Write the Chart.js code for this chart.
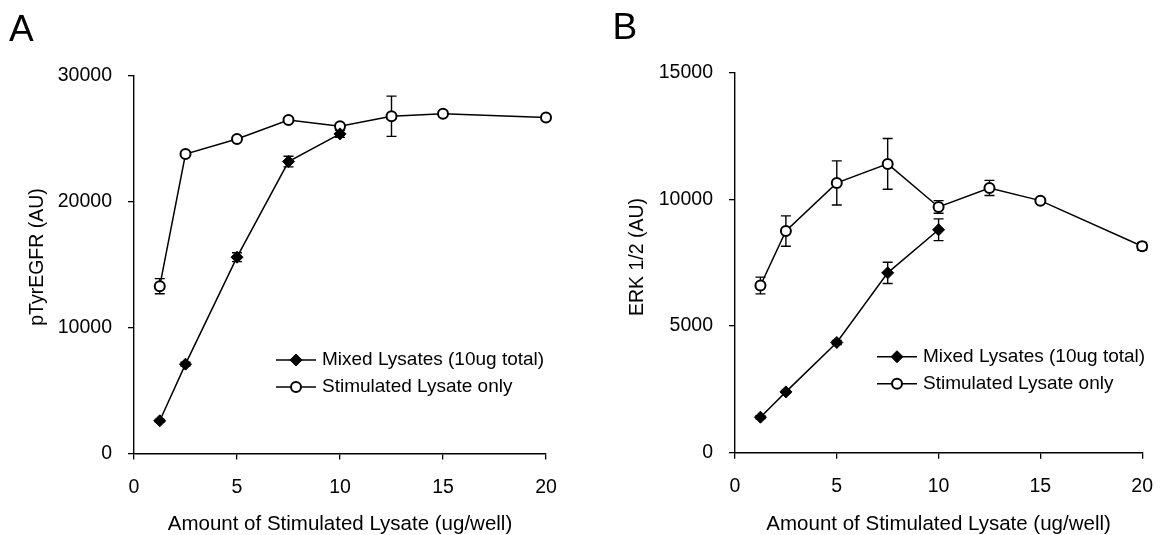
<!DOCTYPE html>
<html>
<head>
<meta charset="utf-8">
<script src="https://cdn.jsdelivr.net/npm/chart.js@4.4.1/dist/chart.umd.min.js"></script>
<style>
  html, body { margin: 0; padding: 0; background: #fff; }
  #wrap { position: relative; width: 1169px; height: 535px; overflow: hidden; background: #fff; }
  canvas { position: absolute; top: 0; }
  #chartA { left: 0; }
  #chartB { left: 580px; }
</style>
</head>
<body>
<div id="wrap">
  <canvas id="chartA" width="580" height="535"></canvas>
  <canvas id="chartB" width="589" height="535"></canvas>
</div>
<script>
// Amount of stimulated lysate per well (ug)
const xMixed = [1.25, 2.5, 5, 7.5, 10];
const xStim = [1.25, 2.5, 5, 7.5, 10, 12.5, 15, 20];

// Panel A: pTyrEGFR signal (AU) with error bars
const egfrMixed = [2600, 7100, 15600, 23200, 25400];
const egfrMixedErr = [100, 150, 350, 420, 280];
const egfrStim = [13300, 23800, 25000, 26500, 26000, 26800, 27000, 26700];
const egfrStimErr = [600, 150, 150, 150, 150, 1600, 100, 100];

// Panel B: ERK 1/2 signal (AU) with error bars
const erkMixed = [1400, 2400, 4350, 7100, 8800];
const erkMixedErr = [60, 60, 80, 420, 430];
const erkStim = [6600, 8750, 10650, 11400, 9700, 10450, 9950, 8150];
const erkStimErr = [330, 600, 870, 1000, 250, 300, 80, 150];

// Axis ticks
const xTicks = [0, 5, 10, 15, 20];
const egfrTicks = [0, 10000, 20000, 30000];
const erkTicks = [0, 5000, 10000, 15000];

const seriesNames = ['Mixed Lysates (10ug total)', 'Stimulated Lysate only'];
const xTitle = 'Amount of Stimulated Lysate (ug/well)';

const FONT = '"Liberation Sans", Arial, Helvetica, sans-serif';

function points(xs, ys) {
  return xs.map((x, i) => ({ x: x, y: ys[i] }));
}

function drawMarker(ctx, style, x, y, r, fill) {
  ctx.beginPath();
  if (style === 'rectRot') {
    ctx.moveTo(x - r, y);
    ctx.lineTo(x, y - r);
    ctx.lineTo(x + r, y);
    ctx.lineTo(x, y + r);
    ctx.closePath();
  } else {
    ctx.arc(x, y, r, 0, Math.PI * 2);
  }
  ctx.fillStyle = fill;
  ctx.fill();
  ctx.stroke();
}

// Vertical error bars with caps, drawn under the markers
const errorBars = {
  id: 'errorBars',
  beforeDatasetsDraw(chart) {
    const ctx = chart.ctx;
    const ys = chart.scales.y;
    ctx.save();
    ctx.strokeStyle = '#000';
    ctx.lineWidth = 1.4;
    chart.data.datasets.forEach((ds, di) => {
      const meta = chart.getDatasetMeta(di);
      ds.data.forEach((p, i) => {
        const e = ds.errors[i];
        const px = meta.data[i].x;
        const yHi = ys.getPixelForValue(p.y + e);
        const yLo = ys.getPixelForValue(p.y - e);
        ctx.beginPath();
        ctx.moveTo(px, yHi); ctx.lineTo(px, yLo);
        ctx.moveTo(px - 5, yHi); ctx.lineTo(px + 5, yHi);
        ctx.moveTo(px - 5, yLo); ctx.lineTo(px + 5, yLo);
        ctx.stroke();
      });
    });
    ctx.restore();
  }
};

// Panel letter, rotated y-axis title and the line-and-marker legend
const panelDecor = {
  id: 'panelDecor',
  afterDraw(chart, args, opts) {
    const ctx = chart.ctx;
    const { left, top } = chart.chartArea;
    ctx.save();
    ctx.fillStyle = '#000';
    ctx.font = '37px ' + FONT;
    ctx.textBaseline = 'alphabetic';
    ctx.textAlign = 'left';
    ctx.fillText(opts.letter, opts.letterX, opts.letterY);

    ctx.save();
    ctx.translate(opts.yTitleX, opts.yTitleY);
    ctx.rotate(-Math.PI / 2);
    ctx.font = '19.5px ' + FONT;
    ctx.textAlign = 'center';
    ctx.textBaseline = 'middle';
    ctx.fillText(opts.yTitle, 0, 0);
    ctx.restore();

    ctx.font = '19px ' + FONT;
    ctx.textBaseline = 'middle';
    ctx.textAlign = 'left';
    chart.data.datasets.forEach((ds, i) => {
      const y = top + 284 + i * 27;
      const x0 = left + 142;
      ctx.strokeStyle = '#000';
      ctx.lineWidth = 1.5;
      ctx.beginPath();
      ctx.moveTo(x0, y);
      ctx.lineTo(x0 + 40, y);
      ctx.stroke();
      ctx.lineWidth = ds.pointBorderWidth;
      drawMarker(ctx, ds.pointStyle, x0 + 20, y, ds.pointRadius, ds.pointBackgroundColor);
      ctx.fillStyle = '#000';
      ctx.fillText(ds.label, x0 + 46, y);
    });
    ctx.restore();
  }
};

function makeChart(id, cfg) {
  const mixedStyle = {
    borderColor: '#000', borderWidth: 1.5, clip: false,
    pointStyle: 'rectRot', pointRadius: 6, pointHoverRadius: 6,
    pointBackgroundColor: '#000', pointBorderColor: '#000', pointBorderWidth: 1
  };
  const stimStyle = {
    borderColor: '#000', borderWidth: 1.5, clip: false,
    pointStyle: 'circle', pointRadius: 5, pointHoverRadius: 5,
    pointBackgroundColor: '#fff', pointBorderColor: '#000', pointBorderWidth: 2
  };
  return new Chart(document.getElementById(id), {
    type: 'line',
    data: {
      datasets: [
        Object.assign({ label: seriesNames[0], data: points(xMixed, cfg.mixed), errors: cfg.mixedErr }, mixedStyle),
        Object.assign({ label: seriesNames[1], data: points(xStim, cfg.stim), errors: cfg.stimErr }, stimStyle)
      ]
    },
    options: {
      responsive: false,
      animation: false,
      devicePixelRatio: 1,
      layout: { padding: { top: cfg.top, right: cfg.right, bottom: 0, left: 0 } },
      plugins: {
        legend: { display: false },
        tooltip: { enabled: false },
        panelDecor: {
          letter: cfg.letter, letterX: cfg.letterX, letterY: cfg.letterY,
          yTitle: cfg.yTitle, yTitleX: cfg.yTitleX, yTitleY: cfg.yTitleY
        }
      },
      elements: { line: { tension: 0 } },
      scales: {
        x: {
          type: 'linear', min: 0, max: 20,
          afterBuildTicks: s => { s.ticks = xTicks.map(v => ({ value: v })); },
          afterFit: s => { s.height = cfg.xHeight; },
          ticks: { color: '#000', font: { family: FONT, size: 19.5 }, padding: 16, maxRotation: 0 },
          grid: { drawOnChartArea: false, drawTicks: true, tickLength: 6, color: '#000', lineWidth: 1.3 },
          border: { color: '#000', width: 1.4 },
          title: { display: true, text: xTitle, color: '#000', font: { family: FONT, size: 20.5 }, padding: { top: 0, bottom: -1.5 } }
        },
        y: {
          type: 'linear', min: 0, max: cfg.yMax,
          afterBuildTicks: s => { s.ticks = cfg.yTicks.map(v => ({ value: v })); },
          afterFit: s => { s.width = cfg.yWidth; },
          ticks: { color: '#000', font: { family: FONT, size: 19.5 }, padding: 16, callback: v => String(v) },
          grid: { drawOnChartArea: false, drawTicks: true, tickLength: 6, color: '#000', lineWidth: 1.3 },
          border: { color: '#000', width: 1.4 },
          title: { display: false }
        }
      }
    },
    plugins: [errorBars, panelDecor]
  });
}

makeChart('chartA', {
  mixed: egfrMixed, mixedErr: egfrMixedErr, stim: egfrStim, stimErr: egfrStimErr,
  yMax: 30000, yTicks: egfrTicks, yTitle: 'pTyrEGFR (AU)',
  top: 76, right: 34, xHeight: 81.5, yWidth: 134,
  yTitleX: 37.5, yTitleY: 257,
  letter: 'A', letterX: 9, letterY: 40.7
});

makeChart('chartB', {
  mixed: erkMixed, mixedErr: erkMixedErr, stim: erkStim, stimErr: erkStimErr,
  yMax: 15000, yTicks: erkTicks, yTitle: 'ERK 1/2 (AU)',
  top: 72.7, right: 23, xHeight: 82.3, yWidth: 155,
  yTitleX: 57.5, yTitleY: 257,
  letter: 'B', letterX: 32.6, letterY: 39.3
});
</script>
</body>
</html>
